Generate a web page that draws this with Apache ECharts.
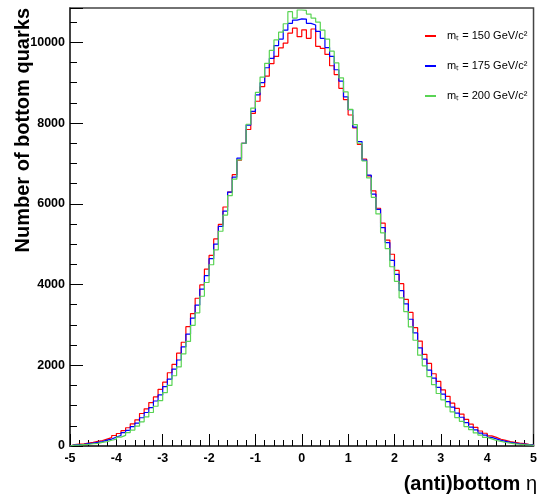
<!DOCTYPE html>
<html>
<head>
<meta charset="utf-8">
<script src="https://cdn.jsdelivr.net/npm/echarts@6/dist/echarts.min.js"></script>
<style>
  html, body { margin: 0; padding: 0; background: #fff; }
  #chart { width: 540px; height: 499px; }
</style>
</head>
<body>
<div id="chart"></div>
<script>
// 100 bins of width 0.1 from -5 to 5
var binLow = -5;
var binWidth = 0.1;

var seriesNames = ['m\u209c = 150 GeV/c\u00b2', 'm\u209c = 175 GeV/c\u00b2', 'm\u209c = 200 GeV/c\u00b2'];
var seriesColors = ['#ff0000', '#0000ff', '#59d454'];

var red150 = [
    36, 46, 56, 74, 88, 114, 136, 172, 208, 260,
    310, 380, 452, 550, 648, 805, 920, 1075, 1215, 1405,
    1580, 1815, 2020, 2300, 2570, 2955, 3280, 3660, 3990, 4380,
    4720, 5130, 5490, 5920, 6290, 6720, 7080, 7500, 7840, 8240,
    8540, 8900, 9160, 9470, 9650, 9860, 9980, 10230, 10350, 10140,
    10310, 10100, 10330, 9900, 9850, 9700, 9420, 9200, 8860, 8580,
    8200, 7880, 7470, 7110, 6690, 6320, 5890, 5520, 5100, 4750,
    4350, 4020, 3630, 3310, 2930, 2600, 2270, 2045, 1790, 1600,
    1390, 1230, 1060, 930, 790, 660, 540, 462, 372, 316,
    252, 214, 168, 140, 108, 92, 70, 58, 42, 34
];

var blue175 = [
    28, 36, 44, 58, 70, 92, 110, 144, 172, 220,
    260, 330, 388, 482, 565, 700, 830, 950, 1115, 1265,
    1470, 1655, 1905, 2130, 2455, 2770, 3170, 3490, 3885, 4220,
    4640, 5000, 5440, 5820, 6290, 6660, 7130, 7500, 7950, 8290,
    8700, 9000, 9370, 9600, 9920, 10080, 10300, 10470, 10550, 10580,
    10575, 10470, 10430, 10270, 10100, 9870, 9650, 9320, 9040, 8650,
    8330, 7900, 7540, 7080, 6710, 6240, 5860, 5410, 5040, 4600,
    4250, 3850, 3520, 3140, 2800, 2430, 2150, 1880, 1680, 1450,
    1285, 1100, 965, 815, 712, 578, 470, 398, 318, 268,
    212, 178, 138, 116, 88, 74, 55, 46, 34, 26
];

var green200 = [
    20, 24, 34, 40, 56, 66, 90, 108, 142, 170,
    220, 262, 332, 395, 490, 600, 720, 830, 985, 1125,
    1320, 1500, 1740, 1960, 2280, 2590, 2990, 3300, 3710, 4050,
    4490, 4860, 5320, 5720, 6200, 6610, 7090, 7500, 7970, 8370,
    8760, 9140, 9480, 9800, 10060, 10250, 10460, 10760, 10600, 10800,
    10790, 10700, 10600, 10500, 10300, 10080, 9780, 9490, 9120, 8770,
    8340, 7960, 7500, 7060, 6640, 6160, 5750, 5280, 4890, 4440,
    4080, 3670, 3330, 2950, 2620, 2250, 1985, 1720, 1520, 1300,
    1145, 970, 845, 705, 612, 482, 405, 325, 270, 212,
    178, 136, 114, 86, 72, 54, 44, 32, 26, 18
];

var yMax = 10850;

function histPoints(values) {
    var pts = [[binLow, 0]];
    values.forEach(function (v, i) {
        pts.push([+(binLow + i * binWidth).toFixed(2), v]);
    });
    var xEnd = +(binLow + values.length * binWidth).toFixed(2);
    pts.push([xEnd, values[values.length - 1]]);
    pts.push([xEnd, 0]);
    return pts;
}

var font = '"Liberation Sans", Arial, Helvetica, sans-serif';
var chart = echarts.init(document.getElementById('chart'), null, { renderer: 'canvas' });

var allValues = [red150, blue175, green200];

var option = {
    animation: false,
    backgroundColor: '#fff',
    grid: {
        left: 70, right: 3, top: 8, bottom: 53,
        show: true, borderColor: '#444', borderWidth: 1.5, backgroundColor: 'transparent'
    },
    legend: {
        orient: 'vertical',
        left: 420,
        top: 24,
        itemWidth: 11,
        itemHeight: 2,
        itemGap: 16,
        icon: 'rect',
        textStyle: { fontFamily: font, fontSize: 11, color: '#000', lineHeight: 14, padding: [0, 0, 0, 6] },
        data: seriesNames
    },
    xAxis: {
        type: 'value',
        min: -5, max: 5, interval: 1,
        axisLine: { show: true, onZero: false, lineStyle: { color: '#333', width: 1.5 } },
        axisTick: { show: true, inside: true, length: 12, lineStyle: { color: '#000' } },
        minorTick: { show: true, splitNumber: 5, length: 6, lineStyle: { color: '#000' } },
        splitLine: { show: false },
        axisLabel: { margin: 6, fontFamily: font, fontWeight: 'bold', fontSize: 12.5, color: '#000' }
    },
    yAxis: [
        {
            type: 'value',
            min: 0, max: yMax, interval: 2000,
            axisLine: { show: true, onZero: false, lineStyle: { color: '#333', width: 1.5 } },
            axisTick: { show: true, inside: true, length: 13, lineStyle: { color: '#000' } },
            splitLine: { show: false },
            axisLabel: {
                margin: 5, fontFamily: font, fontWeight: 'bold', fontSize: 12.5, color: '#000',
                formatter: function (v) { return v % 2000 === 0 ? String(v) : ''; }
            }
        },
        {
            type: 'value',
            position: 'left',
            min: 0, max: yMax, interval: 500,
            axisLine: { show: false, onZero: false },
            axisTick: { show: true, inside: true, length: 7, lineStyle: { color: '#000' } },
            splitLine: { show: false },
            axisLabel: { show: false }
        }
    ],
    graphic: [
        {
            type: 'text', x: 23, y: 8, rotation: Math.PI / 2, z: 100,
            style: {
                text: 'Number of bottom quarks',
                fontFamily: font, fontWeight: 'bold', fontSize: 20, fill: '#000',
                align: 'right', verticalAlign: 'middle'
            }
        },
        {
            type: 'text', x: 537, y: 484, z: 100,
            style: {
                text: '{b|(anti)bottom }{e|\u03b7}',
                align: 'right', verticalAlign: 'middle',
                rich: {
                    b: { fontFamily: font, fontWeight: 'bold', fontSize: 20, fill: '#000' },
                    e: { fontFamily: font, fontSize: 20, fill: '#000' }
                }
            }
        }
    ],
    series: allValues.map(function (vals, k) {
        return {
            name: seriesNames[k],
            type: 'line',
            step: 'end',
            yAxisIndex: 0,
            symbol: 'none',
            color: seriesColors[k],
            lineStyle: { width: 1.2, color: seriesColors[k] },
            data: histPoints(vals)
        };
    })
};

chart.setOption(option);
</script>
</body>
</html>
